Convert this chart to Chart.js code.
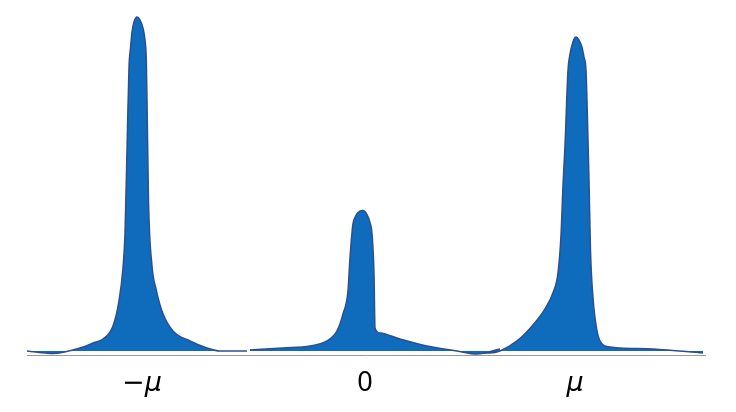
<!DOCTYPE html>
<html>
<head>
<meta charset="utf-8">
<script src="https://cdn.jsdelivr.net/npm/chart.js@4"></script>
<style>
  html, body { margin: 0; padding: 0; background: #fff; }
  #wrap { width: 736px; height: 412px; }
</style>
</head>
<body>
<div id="wrap"><canvas id="chart"></canvas></div>
<script>
// three peaks, x in plot units, heights
const leftX = [27, 53, 80, 93, 103, 113, 119, 123, 125, 127, 129, 130.5, 132, 134, 137, 140, 143, 145, 146.3, 147, 148.5, 152, 156, 163, 173, 190, 207, 220, 247];
const leftY = [0, -2.5, 3, 8, 12, 25, 50, 83, 117, 200, 283, 302, 318, 328, 333, 330, 322, 310, 290, 250, 150, 85, 62, 37, 20, 10, 3, 0, 0];

const midX = [250, 283, 310, 327, 337, 343, 348, 350, 353, 355, 358, 363, 367, 370, 372, 374, 375, 380, 400, 427, 457, 477, 500];
const midY = [1, 3, 5, 10, 20, 37, 60, 93, 127, 133, 138, 140, 136, 128, 117, 77, 23, 18, 12, 5, 0, -3, 2];

const rightX = [470, 490, 500, 517, 533, 545, 553, 558, 561, 563, 565, 568, 570, 572, 574, 576, 579, 582, 584, 586, 587.5, 589, 590.5, 593, 597, 602, 610, 620, 653, 703];
const rightY = [-2, -2, 0, 10, 26, 42, 58, 78, 115, 165, 205, 280, 296, 305, 311, 313, 310, 303, 293, 280, 230, 170, 100, 53, 20, 7, 4, 3, 2, -2];

const tickPositions = [142, 365, 575];
const tickLabels = ["\u2212\u03bc", "0", "\u03bc"];

const FILL = "#0f6cbd";
const EDGE = "#2d4f8e";

function toPoints(xs, ys) {
  return xs.map((x, i) => ({ x: x, y: ys[i] }));
}

function peak(xs, ys) {
  return {
    data: toPoints(xs, ys),
    backgroundColor: FILL,
    borderColor: EDGE,
    borderWidth: 1.5,
    fill: "origin",
    pointRadius: 0,
    cubicInterpolationMode: "monotone",
  };
}

new Chart(document.getElementById("chart"), {
  type: "line",
  data: {
    datasets: [peak(leftX, leftY), peak(midX, midY), peak(rightX, rightY)],
  },
  options: {
    responsive: true,
    maintainAspectRatio: false,
    animation: false,
    layout: { padding: { left: 27, right: 31, top: 0, bottom: 0 } },
    plugins: { legend: { display: false }, tooltip: { enabled: false } },
    scales: {
      x: {
        type: "linear",
        min: 27,
        max: 705,
        grid: { display: false, drawTicks: false },
        border: { display: true, color: "#9a9a9a", width: 1 },
        afterBuildTicks: (axis) => {
          axis.ticks = tickPositions.map((v) => ({ value: v }));
        },
        ticks: {
          padding: 15,
          color: "#000",
          maxRotation: 0,
          autoSkip: false,
          // the "0" is upright, the mu labels are oblique with a long minus
          font: (ctx) => ctx.index === 1
            ? { family: "'Noto Sans', sans-serif", size: 27, style: "normal", lineHeight: 1 }
            : { family: "'DejaVu Sans', sans-serif", size: 27, style: "italic", lineHeight: 1 },
          callback: (value, index) => tickLabels[index],
        },
      },
      y: {
        display: false,
        min: -4,
        max: 350,
      },
    },
  },
});
</script>
</body>
</html>
